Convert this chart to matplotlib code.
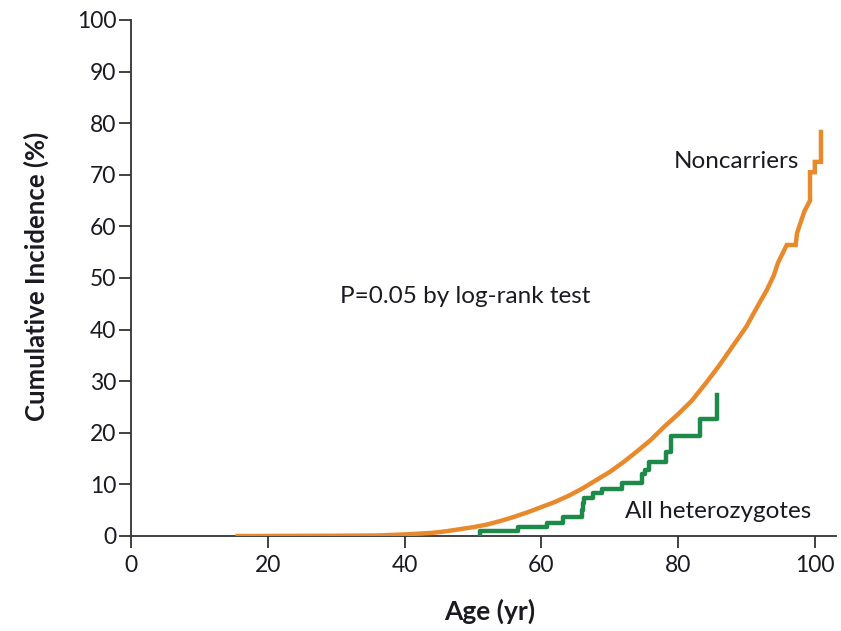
import numpy as np
import matplotlib
matplotlib.use('Agg')
import matplotlib.pyplot as plt

# noncarriers (orange); repeated ages = vertical jumps
nc_age = [15.6, 30, 36, 40, 44, 46, 48, 50, 52, 54, 56, 58, 60, 62, 64, 66,
          68, 70, 72, 74, 76, 78, 80, 82, 84, 86, 88, 90, 92, 93, 94, 94.6,
          95.9, 97.2, 97.4, 98.5, 99.3, 99.3, 100.0, 100.0, 100.9, 100.9]
nc_val = [0, 0.05, 0.1, 0.3, 0.6, 0.9, 1.3, 1.7, 2.2, 2.9, 3.7, 4.6, 5.6, 6.6,
          7.8, 9.2, 10.8, 12.4, 14.3, 16.4, 18.6, 21.2, 23.6, 26.2, 29.5, 33.0,
          36.8, 40.6, 45.4, 47.7, 50.5, 52.9, 56.4, 56.4, 58.7, 63.0, 65.0,
          70.5, 70.5, 72.5, 72.5, 78.3]

# all heterozygotes (green), step function
het_age = [51.0, 51.1, 56.6, 60.8, 63.2, 65.9, 66.1, 66.3, 67.5, 68.9, 71.8,
           74.7, 75.2, 75.7, 78.3, 79.0, 83.2, 85.7]
het_val = [0, 1.0, 1.75, 2.6, 3.6, 5.0, 6.3, 7.3, 8.3, 9.2, 10.2, 12.0, 12.8,
           14.4, 16.3, 19.3, 22.7, 27.3]

xticks = [0, 20, 40, 60, 80, 100]
yticks = list(range(0, 101, 10))

orange = '#e8892b'
green = '#1e8a4a'
txt = '#1a1a22'

plt.rcParams['font.family'] = ['Lato', 'DejaVu Sans']

fig = plt.figure(figsize=(8.41, 6.31), dpi=100)
ax = fig.add_axes([131/841, 95/631, 705/841, 516/631])

ax.plot(nc_age, nc_val, color=orange, lw=3.2, zorder=3, solid_joinstyle='miter')
ax.step(het_age, het_val, where='post', color=green, lw=3.2, zorder=4)

ax.set_xlim(0, 103.1)
ax.set_ylim(0, 100)
ax.set_xticks(xticks)
ax.set_yticks(yticks)
ax.spines['top'].set_visible(False)
ax.spines['right'].set_visible(False)
for s in ['left', 'bottom']:
    ax.spines[s].set_color('#333333')
    ax.spines[s].set_linewidth(1.3)
ax.tick_params(direction='out', length=8.5, width=1.3, color='#333333',
               labelsize=16.5, labelcolor=txt)
ax.tick_params(axis='y', pad=2)
ax.tick_params(axis='x', pad=5)

ax.set_xlabel('Age (yr)', fontsize=19, fontweight='bold', color=txt)
ax.set_ylabel('Cumulative Incidence (%)', fontsize=18.5, fontweight='bold', color=txt)
ax.xaxis.set_label_coords(0.509, -0.122)
ax.yaxis.set_label_coords(-0.117, 0.504)

ax.text(97.7, 72.5, 'Noncarriers', fontsize=17.5, color=txt, ha='right', va='center')
ax.text(72.2, 4.7, 'All heterozygotes', fontsize=17.5, color=txt, ha='left', va='center')
ax.text(30.6, 46.4, 'P=0.05 by log-rank test', fontsize=17.5, color=txt,
        ha='left', va='center')

fig.savefig('out.png', dpi=100)
